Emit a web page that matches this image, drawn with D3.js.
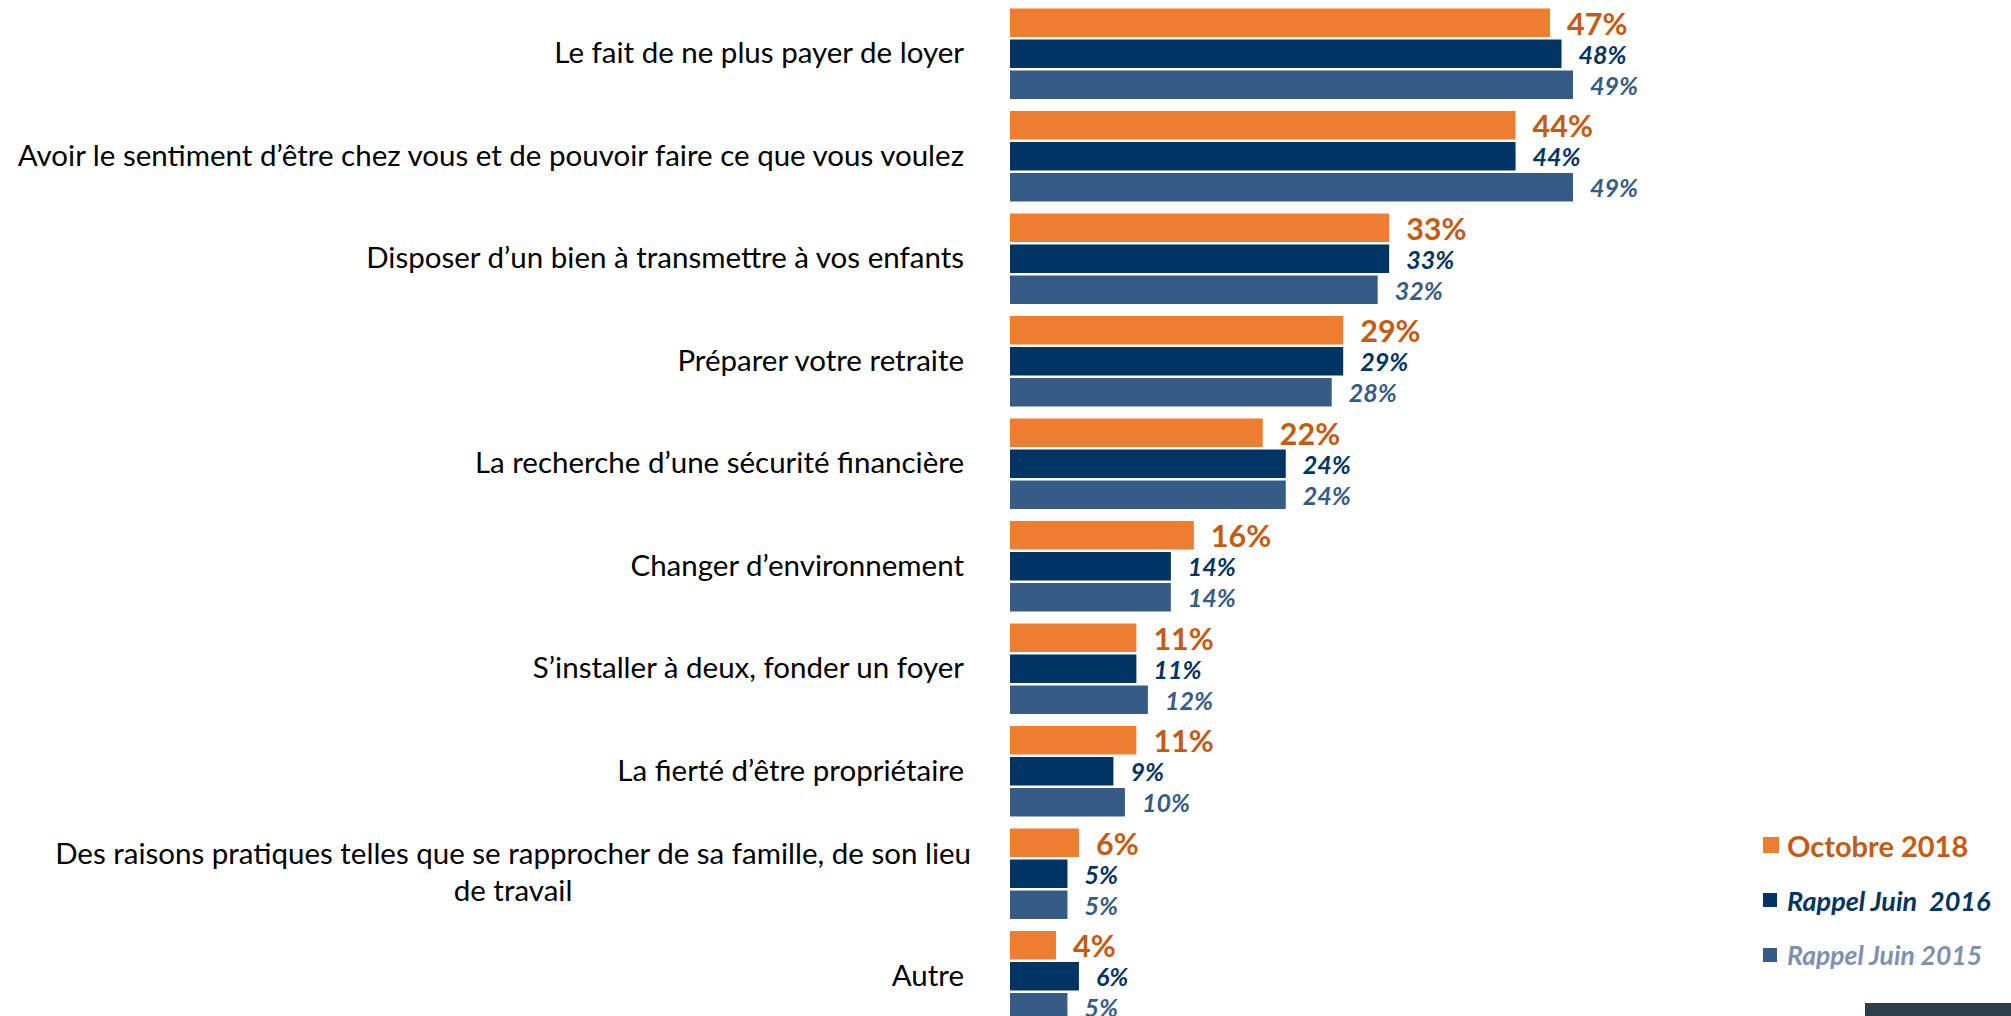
<!DOCTYPE html>
<html>
<head>
<meta charset="utf-8">
<script src="https://cdn.jsdelivr.net/npm/d3@7"></script>
<style>
  html, body { margin: 0; padding: 0; background: #ffffff; overflow: hidden; }
  svg { display: block; }
</style>
</head>
<body>
<svg id="chart" width="2011" height="1016"></svg>
<script>
// ---------- DATA ----------
const categories = [
  "Le fait de ne plus payer de loyer",
  "Avoir le sentiment d’être chez vous et de pouvoir faire ce que vous voulez",
  "Disposer d’un bien à transmettre à vos enfants",
  "Préparer votre retraite",
  "La recherche d’une sécurité financière",
  "Changer d’environnement",
  "S’installer à deux, fonder un foyer",
  "La fierté d’être propriétaire",
  "Des raisons pratiques telles que se rapprocher de sa famille, de son lieu\nde travail",
  "Autre"
];
const seriesNames = ["Octobre 2018", "Rappel Juin  2016", "Rappel Juin 2015"];
const octobre2018 = [47, 44, 33, 29, 22, 16, 11, 11, 6, 4];
const juin2016    = [48, 44, 33, 29, 24, 14, 11, 9, 5, 6];
const juin2015    = [49, 49, 32, 28, 24, 14, 12, 10, 5, 5];

// ---------- STYLE ----------
const barColors   = ["#ED7D31", "#003463", "#365C86"];
const labelColors = ["#C55A11", "#003463", "#365C86"];
const legendTextColors = ["#C55A11", "#003463", "#7F8FB0"];
const seriesValues = [octobre2018, juin2016, juin2015];

const svg = d3.select("#chart");

const x = d3.scaleLinear().domain([0, 49]).range([1010, 1573]);

const step = 102.5, pIn = 12 / 102.5, top0 = 8.5;
const y = d3.scaleBand()
  .domain(categories)
  .range([top0, top0 + step * (categories.length - pIn)])
  .paddingInner(pIn)
  .paddingOuter(0);

const ySub = d3.scaleBand()
  .domain(d3.range(seriesNames.length))
  .range([0, y.bandwidth()])
  .paddingInner(2.5 / 31)
  .paddingOuter(0);

const rows = categories.map((c, i) => ({
  cat: c,
  vals: seriesValues.map((s, k) => ({ k, v: s[i] }))
}));

// clip for category labels (left edge cut like the reference)
svg.append("defs").append("clipPath").attr("id", "labclip")
  .append("rect").attr("x", 17).attr("y", 0).attr("width", 2000).attr("height", 1016);

// ---------- BARS ----------
const groups = svg.append("g").selectAll("g.grp")
  .data(rows).join("g")
  .attr("class", "grp")
  .attr("transform", d => `translate(0,${y(d.cat)})`);

groups.selectAll("rect")
  .data(d => d.vals).join("rect")
  .attr("x", x(0))
  .attr("y", d => ySub(d.k))
  .attr("width", d => x(d.v) - x(0))
  .attr("height", ySub.bandwidth())
  .attr("fill", d => barColors[d.k]);

// value labels
const labelFont = [
  { size: 30.5, style: "normal" },
  { size: 25, style: "italic" },
  { size: 25, style: "italic" }
];
groups.selectAll("text.val")
  .data(d => d.vals).join("text")
  .attr("class", "val")
  .attr("x", d => x(d.v) + 17)
  .attr("y", d => ySub(d.k) + ySub.bandwidth() / 2)
  .attr("dominant-baseline", "central")
  .attr("font-family", "Lato, 'Open Sans', sans-serif")
  .attr("font-weight", "bold")
  .attr("font-style", d => labelFont[d.k].style)
  .attr("font-size", d => labelFont[d.k].size)
  .attr("fill", d => labelColors[d.k])
  .text(d => d.v + "%");

// ---------- CATEGORY LABELS ----------
const labG = svg.append("g").attr("clip-path", "url(#labclip)");
rows.forEach(r => {
  const lines = r.cat.split("\n");
  const cy = y(r.cat) + ySub(1) + ySub.bandwidth() / 2 - 2;
  const lh = 37;
  const t = labG.append("text")
    .attr("font-family", "Lato, 'Open Sans', sans-serif")
    .attr("font-size", 29.5)
    .attr("fill", "#000000")
    .attr("dominant-baseline", "central");
  if (lines.length === 1) {
    t.attr("text-anchor", "end").attr("x", 964).attr("y", cy).text(lines[0]);
  } else {
    lines.forEach((ln, j) => {
      t.append("tspan")
        .attr("y", cy - (lines.length - 1) * lh / 2 + j * lh - 1)
        .text(ln);
    });
    // center lines so that the widest line ends near the label column edge
    const widths = [];
    t.selectAll("tspan").each(function () { widths.push(this.getComputedTextLength()); });
    const cx = 971 - d3.max(widths) / 2;
    t.attr("text-anchor", "middle");
    t.selectAll("tspan").attr("x", cx);
  }
});

// ---------- LEGEND ----------
const legend = [
  { k: 0, ys: 845, sq: 16, size: 29, style: "normal" },
  { k: 1, ys: 900, sq: 14, size: 27, style: "italic" },
  { k: 2, ys: 955, sq: 14, size: 26.5, style: "italic" }
];
const lg = svg.append("g");
legend.forEach(l => {
  lg.append("rect")
    .attr("x", 1763).attr("y", l.ys - l.sq / 2)
    .attr("width", l.sq).attr("height", l.sq)
    .attr("fill", barColors[l.k]);
  lg.append("text")
    .attr("x", 1787).attr("y", l.ys)
    .attr("dominant-baseline", "central")
    .attr("font-family", "Lato, 'Open Sans', sans-serif")
    .attr("font-weight", "bold")
    .attr("font-style", l.style)
    .attr("font-size", l.size)
    .attr("fill", legendTextColors[l.k])
    .style("white-space", "pre")
    .text(seriesNames[l.k]);
});

// decorative footer block (bottom right)
svg.append("rect")
  .attr("x", 1865).attr("y", 1003).attr("width", 146).attr("height", 13)
  .attr("fill", "#2F3E4C");
</script>
</body>
</html>
